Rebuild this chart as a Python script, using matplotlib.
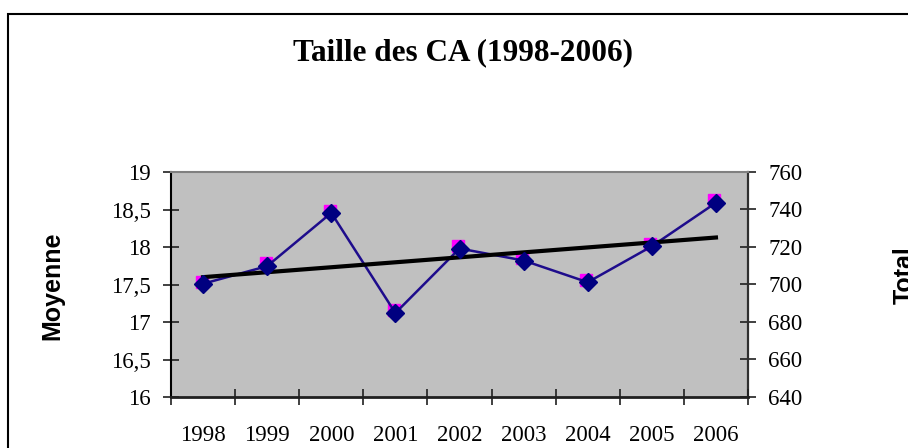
import numpy as np
import matplotlib
matplotlib.use("Agg")
import matplotlib.pyplot as plt
from matplotlib.patches import Rectangle
import matplotlib.transforms as mtransforms

# ---- data ----
years = ["1998", "1999", "2000", "2001", "2002", "2003", "2004", "2005", "2006"]
moyenne = [17.51, 17.745, 18.455, 17.12, 17.98, 17.82, 17.53, 18.01, 18.59]
total = [700.8, 710.4, 738.6, 685.4, 719.6, 713.2, 701.6, 720.8, 744.0]
left_ticks = [16, 16.5, 17, 17.5, 18, 18.5, 19]
right_ticks = [640, 660, 680, 700, 720, 740, 760]
title = "Taille des CA (1998-2006)"
caption = "Figure 12 : Taille des CA (1998-2006)"

serif = ["Liberation Serif", "DejaVu Serif"]
sans = ["Liberation Sans", "DejaVu Sans"]

W, H = 908, 448
fig = plt.figure(figsize=(W / 100, H / 100), dpi=100)
fig.patch.set_facecolor("white")

# outer frame (partly cut)
fig.add_artist(Rectangle((8 / W, -0.2), 1.5, 1 - 14 / H + 0.2, transform=fig.transFigure,
                         fill=False, edgecolor="black", linewidth=1.5, clip_on=False))
# caption mostly cut off at the top (only descenders show)
fig.text(14 / W, 1 + 7 / H, caption, ha="left", va="baseline", fontsize=18,
         fontweight="bold", family=serif)

L, R, T, B = 171, 748, 172, 397
ax = fig.add_axes([L / W, 1 - B / H, (R - L) / W, (B - T) / H])
ax2 = ax.twinx()
ax.set_zorder(ax2.get_zorder() + 1)
ax.patch.set_visible(False)
ax2.patch.set_visible(True)
ax2.patch.set_facecolor("#C0C0C0")

x = np.arange(len(years))

# Total (right axis) magenta squares
off = mtransforms.ScaledTranslation(-1.5 / 100, 1.5 / 100, fig.dpi_scale_trans)
ax2.plot(x, total, linestyle="none", marker="s", markersize=8, color="#FF00FF",
         transform=ax2.transData + off, zorder=2)

# Moyenne (left axis)
ax.plot(x, moyenne, color="#1E0C8C", linewidth=1.8, zorder=2)
coef = np.polyfit(x, moyenne, 1)
ax.plot(x, np.polyval(coef, x), color="black", linewidth=3, zorder=3)
ax.plot(x, moyenne, linestyle="none", marker="D", markersize=9.5, color="#000080",
        zorder=4)

ax.set_xlim(-0.5, len(years) - 0.5)
ax.set_ylim(16, 19)
ax2.set_ylim(640, 760)

ax.set_xticks(np.arange(-0.5, len(years), 1.0))
ax.set_xticklabels([])
ax.set_xticks(x, minor=True)
ax.set_xticklabels(years, minor=True, fontsize=16.5, family=serif)
ax.tick_params(axis="x", which="major", direction="inout", length=11, width=1.2,
               color="#202020")
ax.tick_params(axis="x", which="minor", length=0, pad=20)

ax.set_yticks(left_ticks)
ax.set_yticklabels([str(v).replace(".", ",") for v in left_ticks], fontsize=16.5,
                   family=serif)
ax.tick_params(axis="y", direction="inout", length=11, width=1.2, color="#202020",
               pad=9)
ax2.set_yticks(right_ticks)
ax2.set_yticklabels([str(v) for v in right_ticks], fontsize=16.5, family=serif)
ax2.tick_params(axis="y", direction="inout", length=11, width=1.2, color="#202020",
                pad=9)

for s in ["top", "right", "left", "bottom"]:
    ax2.spines[s].set_visible(False)
ax2.spines["right"].set_visible(True)
ax2.spines["right"].set_color("#303030")
ax2.spines["right"].set_linewidth(1.6)
ax.spines["right"].set_visible(False)
ax.spines["top"].set_color("#808080")
ax.spines["top"].set_linewidth(1.5)
ax.spines["left"].set_color("black")
ax.spines["left"].set_linewidth(1.5)
ax.spines["bottom"].set_color("#202020")
ax.spines["bottom"].set_linewidth(2)

ax.set_ylabel("Moyenne", fontsize=18, fontweight="bold", family=sans)
ax.yaxis.set_label_coords((64 - L) / (R - L), (B - 286) / (B - T))
ax2.set_ylabel("Total", fontsize=18, fontweight="bold", family=sans, rotation=90)
ax2.yaxis.set_label_coords((893 - L) / (R - L), (B - 275) / (B - T))

fig.text(463 / W, 1 - 53 / H, title, ha="center", va="center", fontsize=22.5,
         fontweight="bold", family=serif)

fig.savefig("out.png", dpi=100)
